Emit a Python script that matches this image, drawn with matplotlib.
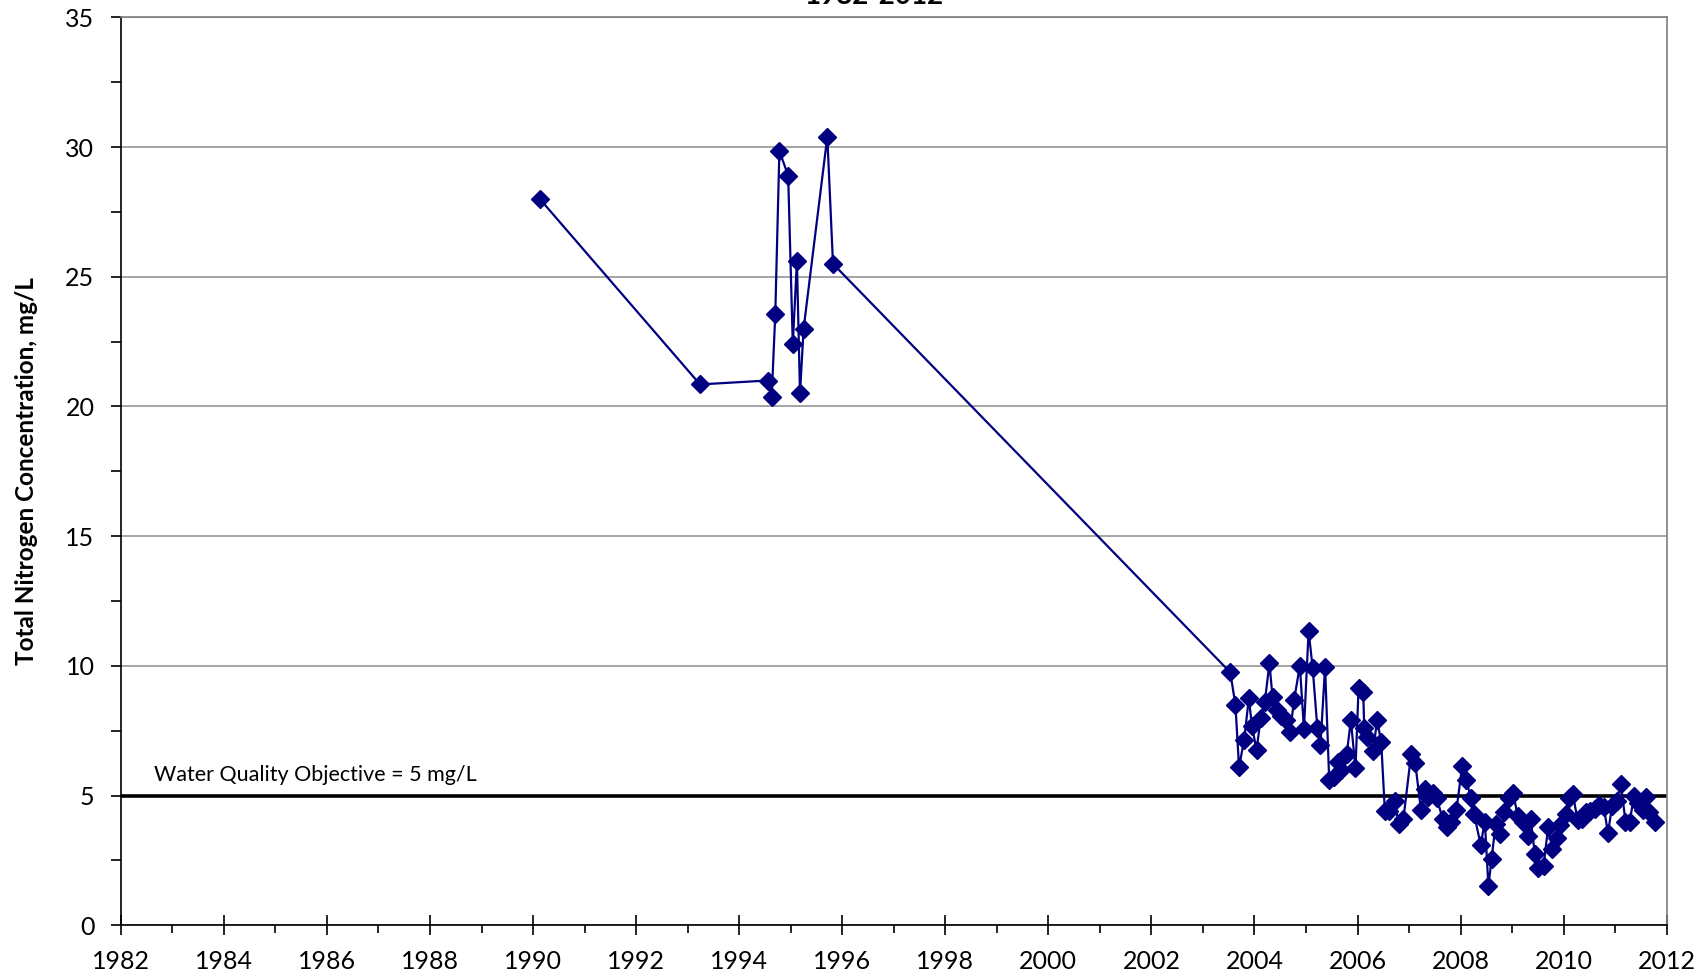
import matplotlib
matplotlib.use("Agg")
import matplotlib.pyplot as plt
from matplotlib.ticker import MultipleLocator

plt.rcParams['font.family'] = ['Lato', 'DejaVu Sans']

# ---- data ----
years = [
    1990.13, 1993.24, 1994.55, 1994.63, 1994.70, 1994.78, 1994.95, 1995.04, 1995.12,
    1995.18, 1995.25, 1995.71, 1995.82,
    2003.53, 2003.63, 2003.70, 2003.80, 2003.89, 2003.95, 2004.04, 2004.12, 2004.20,
    2004.29, 2004.35, 2004.44, 2004.52, 2004.61, 2004.69, 2004.77, 2004.88, 2004.96,
    2005.05, 2005.13, 2005.22, 2005.28, 2005.37, 2005.45, 2005.54, 2005.62, 2005.68,
    2005.79, 2005.87, 2005.96, 2006.02, 2006.11, 2006.13, 2006.19, 2006.30, 2006.38,
    2006.46, 2006.53, 2006.61, 2006.72, 2006.80, 2006.89, 2007.04, 2007.12, 2007.23,
    2007.31, 2007.37, 2007.46, 2007.54, 2007.65, 2007.73, 2007.82, 2007.92, 2008.03,
    2008.11, 2008.20, 2008.26, 2008.39, 2008.47, 2008.54, 2008.60, 2008.68, 2008.77,
    2008.85, 2008.94, 2009.02, 2009.11, 2009.21, 2009.30, 2009.36, 2009.44, 2009.51,
    2009.61, 2009.70, 2009.78, 2009.87, 2009.93, 2010.04, 2010.10, 2010.18, 2010.27,
    2010.35, 2010.44, 2010.52, 2010.61, 2010.69, 2010.78, 2010.86, 2010.94, 2011.03,
    2011.11, 2011.20, 2011.28, 2011.37, 2011.45, 2011.54, 2011.60, 2011.66, 2011.77,
]
tn_mgL = [
    28.0, 20.85, 21.0, 20.35, 23.55, 29.85, 28.9, 22.4, 25.6,
    20.5, 23.0, 30.4, 25.5,
    9.75, 8.5, 6.1, 7.15, 8.75, 7.7, 6.75, 8.0, 8.6,
    10.1, 8.8, 8.3, 8.05, 7.9, 7.45, 8.7, 10.0, 7.55,
    11.35, 9.9, 7.6, 6.95, 9.95, 5.6, 5.7, 6.3, 6.0,
    6.6, 7.9, 6.05, 9.15, 9.0, 7.6, 7.25, 6.7, 7.9,
    7.05, 4.4, 4.4, 4.8, 3.9, 4.1, 6.6, 6.25, 4.45,
    5.25, 4.95, 5.1, 4.9, 4.1, 3.8, 4.0, 4.45, 6.15,
    5.6, 4.9, 4.3, 3.1, 4.0, 1.5, 2.55, 3.9, 3.5,
    4.35, 4.9, 5.1, 4.2, 4.0, 3.45, 4.1, 2.75, 2.2,
    2.3, 3.8, 2.95, 3.35, 3.85, 4.3, 4.9, 5.05, 4.05,
    4.1, 4.35, 4.4, 4.5, 4.65, 4.55, 3.55, 4.6, 4.8,
    5.45, 4.0, 4.0, 5.0, 4.7, 4.45, 4.95, 4.35, 4.0,
]
objective = 5
objective_label = "Water Quality Objective = 5 mg/L"
x_ticks = list(range(1982, 2013, 2))
y_ticks = list(range(0, 36, 5))
title_tail = "1982-2012"
ylabel = "Total Nitrogen Concentration, mg/L"

# ---- figure ----
fig = plt.figure(figsize=(17.07, 9.75), dpi=100)
ax = fig.add_axes([0.0708, 0.051, 0.9764 - 0.0708, 0.9822 - 0.051])

ax.set_xlim(1982, 2012)
ax.set_ylim(0, 35)
ax.set_xticks(x_ticks)
ax.set_yticks(y_ticks)
ax.set_xticklabels([str(t) for t in x_ticks])
ax.xaxis.set_minor_locator(MultipleLocator(1))
ax.yaxis.set_minor_locator(MultipleLocator(2.5))

ax.tick_params(axis='x', which='major', direction='inout', length=14, width=1.2,
               labelsize=18, pad=11)
ax.tick_params(axis='x', which='minor', direction='out', length=6, width=1.2)
ax.tick_params(axis='y', which='major', direction='out', length=7, width=1.2,
               labelsize=18, pad=12)
ax.tick_params(axis='y', which='minor', direction='out', length=7, width=1.2)

ax.grid(axis='y', which='major', color='#8c8c8c', linewidth=1.1)
ax.set_axisbelow(True)

for s in ('left', 'bottom'):
    ax.spines[s].set_color('black')
    ax.spines[s].set_linewidth(1.2)
for s in ('right', 'top'):
    ax.spines[s].set_color('#7f7f7f')
    ax.spines[s].set_linewidth(1.2)

ax.axhline(objective, color='black', linewidth=2.6, zorder=2)
ax.text(1982.65, 5.8, objective_label, fontsize=15.5, ha='left', va='center')

ax.plot(years, tn_mgL, color='#000080', linewidth=1.6, marker='D',
        markersize=9, markerfacecolor='#000080', markeredgecolor='#000080',
        zorder=3, clip_on=False)

ax.set_ylabel(ylabel, fontsize=17.5, fontweight='bold', labelpad=20)

fig.text(0.512, 1 - 4 / 975, title_tail, ha='center', va='baseline',
         fontsize=20, fontweight='bold')

fig.savefig("out.png", dpi=100)
